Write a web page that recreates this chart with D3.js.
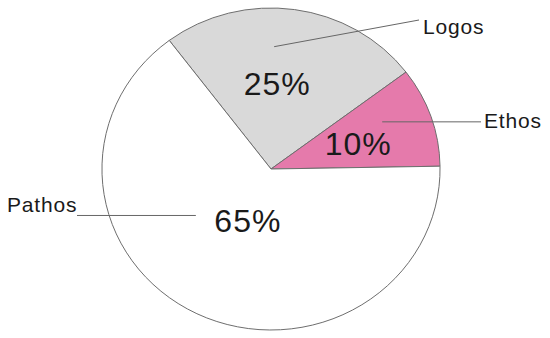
<!DOCTYPE html>
<html>
<head>
<meta charset="utf-8">
<script src="https://cdn.jsdelivr.net/npm/d3@7"></script>
<style>
  body { margin: 0; background: #fff; }
  svg { display: block; font-family: "Liberation Sans", Arial, sans-serif; }
</style>
</head>
<body>
<svg width="550" height="338"></svg>
<script>
  // data, clockwise from top
  const categories = ["Logos", "Ethos", "Pathos"];
  const values = [25, 10, 65];
  const colors = ["#d9d9d9", "#e57aab", "#ffffff"];

  const svg = d3.select("svg"),
        cx = 271, cy = 169,
        r = 161, sx = 1.05;

  const deg = Math.PI / 180;
  const pie = d3.pie().sort(null).startAngle(-37 * deg)
    .endAngle(323 * deg);
  const arcs = pie(values);
  const arc = d3.arc().innerRadius(0).outerRadius(r);

  const g = svg.append("g")
    .attr("transform", `translate(${cx},${cy}) scale(${sx},1)`);

  g.selectAll("path")
    .data(arcs)
    .enter().append("path")
    .attr("d", arc)
    .attr("fill", (d, i) => colors[i])
    .attr("stroke", "#6e6e6e")
    .attr("stroke-width", 1)
    .attr("vector-effect", "non-scaling-stroke");

  // polar helper: d3 angle (clockwise from 12 o'clock), radius fraction
  const pt = (a, f) => [cx + sx * r * f * Math.sin(a), cy - r * f * Math.cos(a)];

  // per slice: pct text angle/radius, leader start angle/radius
  const pctPos = [[4 * deg, 0.53], [73 * deg, 0.54], [203 * deg, 0.35]];
  const leadPos = [[1.4 * deg, 0.76], [66 * deg, 0.72], [237 * deg, 0.53]];

  const labelText = [
    {x: 423, y: 34, lx: 419, ly: 20},
    {x: 484, y: 128, lx: 481, ly: null},
    {x: 7, y: 212, lx: 77, ly: null}
  ];

  arcs.forEach((d, i) => {
    const p = pt(pctPos[i][0], pctPos[i][1]);
    svg.append("text")
      .attr("x", p[0]).attr("y", p[1] + 11)
      .attr("text-anchor", "middle")
      .attr("font-size", 32)
      .attr("letter-spacing", 1)
      .attr("fill", "#1a1a1a")
      .text(values[i] + "%");

    const s = pt(leadPos[i][0], leadPos[i][1]);
    const L = labelText[i];
    svg.append("line")
      .attr("x1", s[0]).attr("y1", s[1])
      .attr("x2", L.lx).attr("y2", L.ly == null ? s[1] : L.ly)
      .attr("stroke", "#666").attr("stroke-width", 1);

    svg.append("text")
      .attr("x", L.x).attr("y", L.y)
      .attr("font-size", 21)
      .attr("letter-spacing", 0.8)
      .attr("fill", "#1a1a1a")
      .text(categories[i]);
  });
</script>
</body>
</html>
